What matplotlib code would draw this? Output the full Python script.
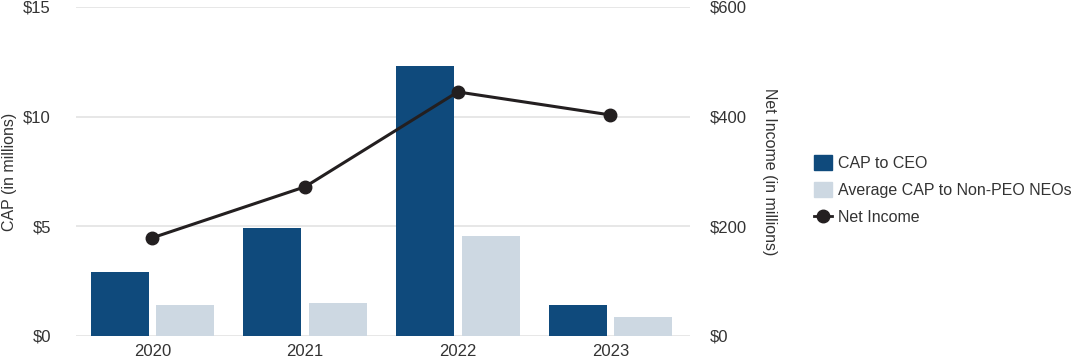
import numpy as np
import matplotlib as mpl
mpl.use("Agg")
from matplotlib import pyplot as plt
from matplotlib.patches import Patch
from matplotlib.lines import Line2D

years       = ['2020', '2021', '2022', '2023']
cap_ceo     = [2.9, 4.9, 12.3, 1.4]
cap_neo     = [1.4, 1.5, 4.55, 0.87]
net_income  = [179, 272, 445, 403]

dark_blue   = '#0f4a7c'
light_blue  = '#cdd8e2'
line_col    = '#231f20'
text_col    = '#333333'

plt.rcParams['font.family'] = ['Liberation Sans', 'DejaVu Sans']
plt.rcParams['text.color'] = text_col

fig = plt.figure(figsize=(10.75, 3.64), dpi=100)
ax  = fig.add_axes([0.0707, 0.077, 0.571, 0.904])
ax2 = ax.twinx()

x   = np.arange(len(years))
bw  = 0.38
ax.bar(x - 0.215, cap_ceo, bw, color=dark_blue, zorder=3)
ax.bar(x + 0.215, cap_neo, bw, color=light_blue, zorder=3)

ax.set_ylim(0, 15)
ax.set_yticks([0, 5, 10, 15])
ax.set_yticklabels(['$0', '$5', '$10', '$15'])
ax.set_xlim(-0.5, 3.52)
ax.set_xticks(x)
ax.set_xticklabels(years)
ax.grid(axis='y', color='#e3e3e3', linewidth=1.2, zorder=0)
ax.set_axisbelow(True)
for s in ax.spines.values():
    s.set_visible(False)
ax.tick_params(axis='y', length=0, labelsize=12, colors=text_col, pad=18)
ax.tick_params(axis='x', length=0, labelsize=12, colors=text_col, pad=6)
ax.set_ylabel('CAP (in millions)', fontsize=11.5, color=text_col, va='center')
ax.yaxis.set_label_coords(-0.108, 0.5)

ax2.plot(x, net_income, color=line_col, linewidth=2.2, marker='o', markersize=9, zorder=5)
ax2.set_ylim(0, 600)
ax2.set_yticks([0, 200, 400, 600])
ax2.set_yticklabels(['$0', '$200', '$400', '$600'])
for s in ax2.spines.values():
    s.set_visible(False)
ax2.tick_params(length=0, labelsize=12, colors=text_col, pad=14)
ax2.set_ylabel('Net Income (in millions)', fontsize=11.5, color=text_col,
               rotation=-90, va='center')
ax2.yaxis.set_label_coords(1.130, 0.5)

handles = [Patch(color=dark_blue, label='CAP to CEO'),
           Patch(color=light_blue, label='Average CAP to Non-PEO NEOs'),
           Line2D([0], [0], color=line_col, linewidth=2, marker='o', markersize=9,
                  label='Net Income')]
fig.legend(handles=handles, loc='center left', bbox_to_anchor=(0.744, 0.478),
           frameon=False, fontsize=11.5, handlelength=1.1, handleheight=1.1,
           handletextpad=0.4, labelspacing=0.7)

fig.savefig('out.png', dpi=100)
